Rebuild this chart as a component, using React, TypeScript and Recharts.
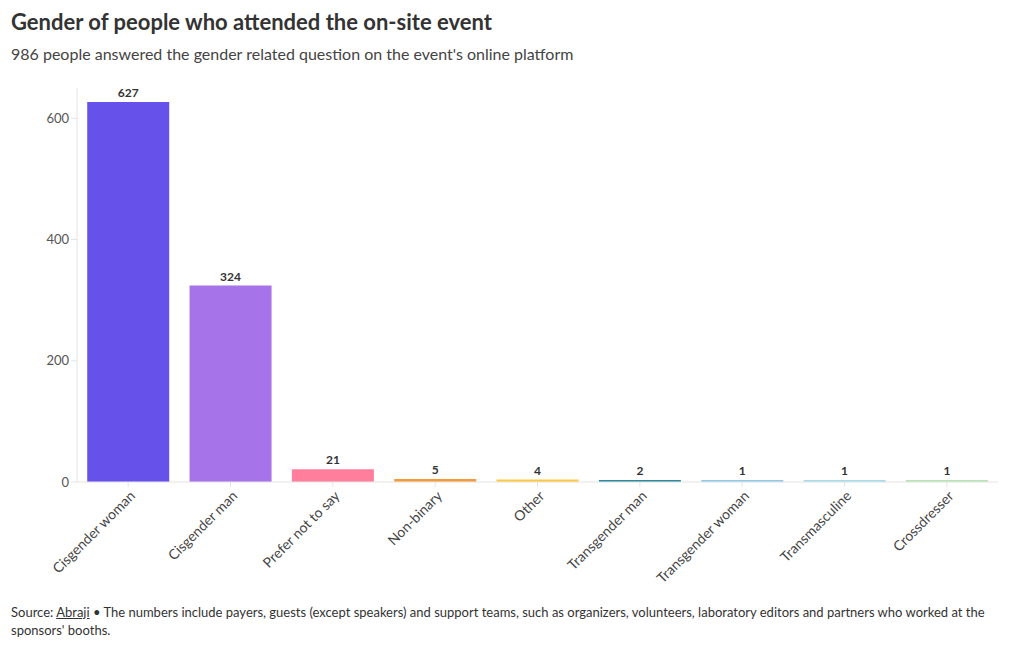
import React from 'react';
import { BarChart, Bar, XAxis, YAxis, Cell, LabelList } from 'recharts';

const categories = [
  'Cisgender woman', 'Cisgender man', 'Prefer not to say', 'Non-binary', 'Other',
  'Transgender man', 'Transgender woman', 'Transmasculine', 'Crossdresser',
];
const counts = [627, 324, 21, 5, 4, 2, 1, 1, 1];
const barColors = [
  '#6651EB', '#A674E8', '#FF7E9B', '#F39B3A', '#FFCA3F',
  '#2E8A9C', '#92C9E7', '#A9DCEA', '#B7E4B6',
];
const yTicks = [0, 200, 400, 600];

const FONT = 'Lato, "Noto Sans", sans-serif';

const chartData = categories.map((name, i) => ({ name, value: counts[i] }));

function AngledTick({ x, y, payload }: any) {
  return (
    <g transform={`translate(${x + 5},${y + 5})`}>
      <text
        textAnchor="end"
        transform="rotate(-45)"
        fontSize={14}
        fill="#444"
        fontFamily={FONT}
        dy={4}
      >
        {payload.value}
      </text>
    </g>
  );
}

export default function App() {
  return (
    <div style={{ position: 'absolute', left: 0, top: 0, width: 1020, height: 650, background: '#fff', fontFamily: FONT, color: '#333' }}>
      <div style={{ position: 'absolute', left: 11, top: 7, fontSize: 22, fontWeight: 700, lineHeight: '30px', color: '#333' }}>
        Gender of people who attended the on-site event
      </div>
      <div style={{ position: 'absolute', left: 11, top: 43, fontSize: 16, lineHeight: '22px', color: '#444' }}>
        986 people answered the gender related question on the event's online platform
      </div>
      <div style={{ position: 'absolute', left: 0, top: 74 }}>
        <BarChart
          width={1020}
          height={520}
          data={chartData}
          margin={{ top: 14, right: 22, left: 0, bottom: 0 }}
          barCategoryGap="10%"
        >
          <XAxis
            dataKey="name"
            interval={0}
            height={112}
            stroke="#e4e4e4"
            tickSize={5}
            tick={<AngledTick />}
          />
          <YAxis
            width={77}
            domain={[0, 650]}
            ticks={yTicks}
            stroke="#e4e4e4"
            tickSize={6}
            tick={{ fontSize: 13, fill: '#555', fontFamily: FONT }}
          />
          <Bar dataKey="value" minPointSize={2} isAnimationActive={false}>
            {chartData.map((d, i) => (
              <Cell key={d.name} fill={barColors[i]} />
            ))}
            <LabelList
              dataKey="value"
              position="top"
              offset={5}
              style={{ fontSize: 12, fontWeight: 700, fill: '#333', fontFamily: FONT }}
            />
          </Bar>
        </BarChart>
      </div>
      <div style={{ position: 'absolute', left: 11, top: 603, width: 1000, fontSize: 13, lineHeight: '18px', color: '#333' }}>
        <div style={{ whiteSpace: 'nowrap' }}>
          <span>Source:&nbsp;</span>
          <span style={{ textDecoration: 'underline' }}>Abraji</span>
          <span>&nbsp;• The numbers include payers, guests (except speakers) and support teams, such as organizers, volunteers, laboratory editors and partners who worked at the</span>
        </div>
        <div>sponsors' booths.</div>
      </div>
    </div>
  );
}
